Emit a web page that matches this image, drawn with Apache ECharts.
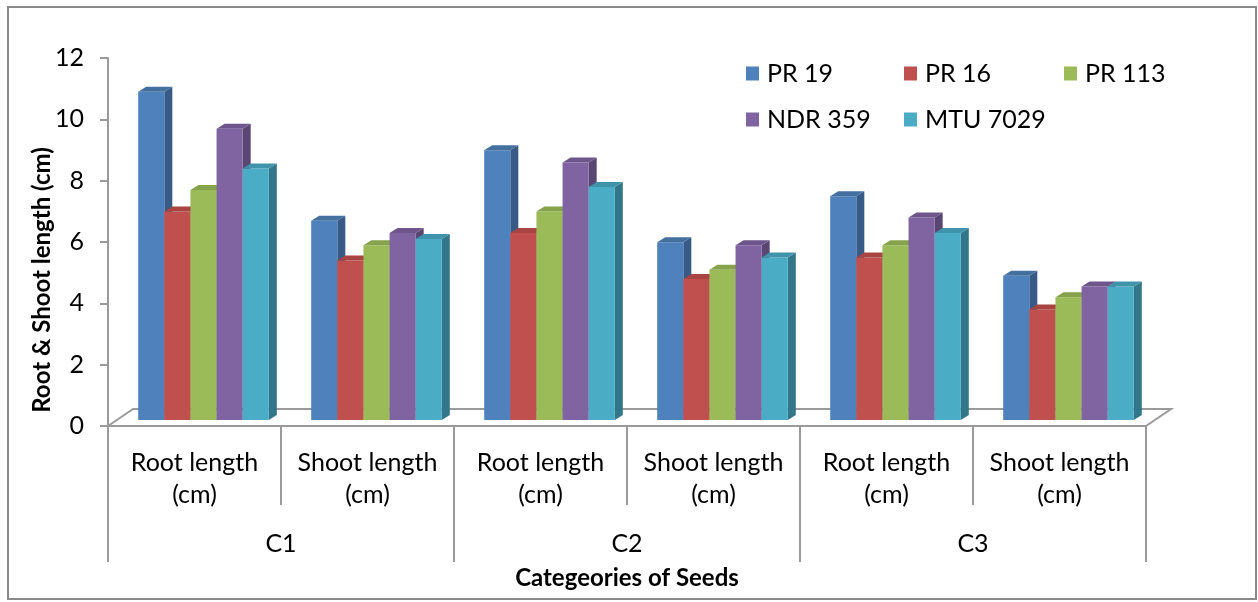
<!DOCTYPE html>
<html>
<head>
<meta charset="utf-8">
<script src="https://cdn.jsdelivr.net/npm/echarts@6/dist/echarts.min.js"></script>
<style>html,body{margin:0;padding:0;background:#fff}#c{width:1258px;height:602px}</style>
</head>
<body>
<div id="c"></div>
<script>
const categories = ['Root length\n(cm)', 'Shoot length\n(cm)', 'Root length\n(cm)', 'Shoot length\n(cm)', 'Root length\n(cm)', 'Shoot length\n(cm)'];
const groups = ['C1', 'C2', 'C3'];
const seriesNames = ['PR 19', 'PR 16', 'PR 113', 'NDR 359', 'MTU 7029'];
const PR19   = [10.7, 6.5, 8.8, 5.8, 7.3, 4.7];
const PR16   = [6.8, 5.2, 6.1, 4.6, 5.3, 3.6];
const PR113  = [7.5, 5.7, 6.8, 4.9, 5.7, 4.0];
const NDR359 = [9.5, 6.1, 8.4, 5.7, 6.6, 4.35];
const MTU7029= [8.2, 5.9, 7.6, 5.3, 6.1, 4.35];
const yTicks = [0, 2, 4, 6, 8, 10, 12];

const values = [PR19, PR16, PR113, NDR359, MTU7029];
const colors = ['#4F81BD', '#C0504D', '#9BBB59', '#8064A2', '#4BACC6'];
const topColors = ['#44709F', '#A84442', '#86A34B', '#6E568D', '#3F94AB'];
const sideColors = ['#375A86', '#873634', '#6C853B', '#5A4672', '#327689'];
const FONT = 'Lato, "Open Sans", sans-serif';
const GRAY = '#9A9A9A';

const chart = echarts.init(document.getElementById('c'));

function barRender(s) {
  return function (params, api) {
    const ci = api.value(0), v = api.value(1);
    const base = api.coord([ci, 0]);
    const top = api.coord([ci, v]);
    const band = api.size([1, 0])[0];
    const bw = band * 0.151;
    const gw = bw * 5;
    const shx = band * 0.052, shy = -6;
    const dX = 8, dY = 5;
    const x0 = base[0] - gw / 2 + s * bw + shx;
    const ty = top[1] + shy, by = base[1] + shy;
    return {
      type: 'group',
      children: [
        { type: 'polygon', shape: { points: [[x0 + bw, ty], [x0 + bw + dX, ty - dY], [x0 + bw + dX, by - dY], [x0 + bw, by]] }, style: { fill: sideColors[s] } },
        { type: 'rect', shape: { x: x0, y: ty, width: bw, height: by - ty }, style: { fill: colors[s] } },
        { type: 'polygon', shape: { points: [[x0, ty], [x0 + bw, ty], [x0 + bw + dX, ty - dY], [x0 + dX, ty - dY]] }, style: { fill: topColors[s] } }
      ]
    };
  };
}

function floorRender(params, api) {
  const band = api.size([1, 0])[0];
  const a = api.coord([0, 0]);
  const b = api.coord([categories.length - 1, 0]);
  const l = a[0] - band / 2, r = b[0] + band / 2, y = a[1];
  const fx = band * 0.145, fy = -17;
  return {
    type: 'polyline',
    shape: { points: [[l, y], [l + fx, y + fy], [r + fx, y + fy], [r, y]] },
    style: { stroke: GRAY, lineWidth: 2, fill: null }
  };
}

const series = [{
  type: 'custom', name: '_floor', renderItem: floorRender, data: [[0, 0]],
  encode: { x: 0, y: 1 }, silent: true, z: 1
}];
values.forEach((arr, s) => {
  series.push({
    type: 'custom', name: seriesNames[s], renderItem: barRender(s),
    itemStyle: { color: colors[s] },
    data: arr.map((v, i) => [i, v]),
    encode: { x: 0, y: 1 }, z: 2 + s
  });
});

const legendPos = [[746, 61], [904, 61], [1064, 61], [746, 107], [904, 107]];
const legends = seriesNames.map((n, i) => ({
  data: [n], left: legendPos[i][0], top: legendPos[i][1], icon: 'rect',
  itemWidth: 13, itemHeight: 14, padding: 0,
  textStyle: { fontFamily: FONT, fontSize: 25, color: '#000', padding: [0, 0, 0, 3] }
}));

chart.setOption({
  animation: false,
  backgroundColor: '#fff',
  grid: { left: 108, right: 112, top: 58, bottom: 176, containLabel: false },
  legend: legends,
  xAxis: [
    { type: 'category', data: categories, position: 'bottom',
      axisLine: { show: true, lineStyle: { color: GRAY, width: 2 } },
      axisTick: { show: true, alignWithLabel: false, length: 79, lineStyle: { color: GRAY, width: 2 } },
      axisLabel: { margin: 21, fontFamily: FONT, fontSize: 25, lineHeight: 32, color: '#000', interval: 0 },
      splitLine: { show: false }
    },
    { type: 'category', data: groups, position: 'bottom', offset: 0,
      axisLine: { show: false },
      axisTick: { show: true, alignWithLabel: false, length: 136, lineStyle: { color: GRAY, width: 2 } },
      axisLabel: { margin: 104, fontFamily: FONT, fontSize: 25, lineHeight: 28, color: '#000' },
      name: 'Categeories of Seeds', nameLocation: 'middle', nameGap: 140,
      nameTextStyle: { fontFamily: FONT, fontSize: 24, fontWeight: 'bold', color: '#000' }
    }
  ],
  yAxis: {
    type: 'value', min: yTicks[0], max: yTicks[yTicks.length - 1], interval: 2,
    axisLine: { show: true, lineStyle: { color: GRAY, width: 2 } },
    axisTick: { show: true, inside: false, length: 8, lineStyle: { color: GRAY, width: 2 } },
    axisLabel: { margin: 24, fontFamily: FONT, fontSize: 25, color: '#000' },
    splitLine: { show: false }
  },
  graphic: [
    {
      type: 'text', x: 42, y: 280, rotation: Math.PI / 2, silent: true,
      style: { text: 'Root & Shoot length (cm)', font: 'bold 24px ' + FONT, fill: '#000', align: 'center', verticalAlign: 'middle' }
    },
    {
      type: 'rect', z: 100, silent: true,
      shape: { x: 8, y: 7, width: 1248, height: 592 },
      style: { fill: null, stroke: '#8A8A8A', lineWidth: 2 }
    }
  ],
  series: series
});
</script>
</body>
</html>
